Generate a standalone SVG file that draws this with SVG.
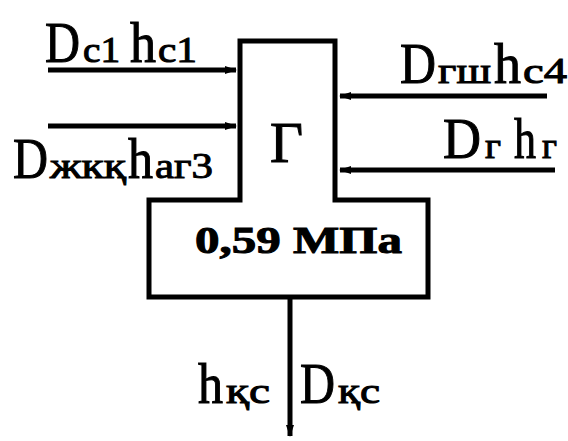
<svg xmlns="http://www.w3.org/2000/svg" width="568" height="441" viewBox="0 0 568 441">
<style>
.l{stroke:#000;stroke-width:5;fill:none}
.t{font-family:"Liberation Serif","Times New Roman","DejaVu Serif",serif;fill:#000;stroke:#000;stroke-width:1;font-size:56px}
.s{font-size:36px}
</style>
<defs>
<marker id="ah" viewBox="0 0 12 10" refX="11" refY="5" markerWidth="12" markerHeight="10" markerUnits="userSpaceOnUse" orient="auto">
<path d="M0,1 L12,5 L0,9 Z" fill="#000"/>
</marker>
</defs>
<g id="node-G">
<path class="l" d="M149,200 L240,200 L240,41 L335,41 L335,200 L428,200 L428,297 L149,297 Z"/>
<text class="t" x="270" y="162" font-size="54" textLength="33" lengthAdjust="spacingAndGlyphs">Г</text>
<text class="t" x="195" y="253" style="font-size:38px" font-weight="bold" textLength="207" lengthAdjust="spacingAndGlyphs">0,59 МПа</text>
</g>
<g id="connectors">
<line class="l" x1="48" y1="70" x2="236" y2="70" marker-end="url(#ah)"/>
<line class="l" x1="48" y1="126" x2="236" y2="126" marker-end="url(#ah)"/>
<line class="l" x1="547" y1="96" x2="340" y2="96" marker-end="url(#ah)"/>
<line class="l" x1="555" y1="170" x2="340" y2="170" marker-end="url(#ah)"/>
<line class="l" x1="290" y1="299" x2="290" y2="436" marker-end="url(#ah)"/>
</g>
<g id="label-in1">
<text class="t" y="62"><tspan x="45" textLength="35" lengthAdjust="spacingAndGlyphs">D</tspan><tspan class="s" x="83" textLength="37" lengthAdjust="spacingAndGlyphs">c1</tspan><tspan x="130" textLength="26" lengthAdjust="spacingAndGlyphs">h</tspan><tspan class="s" x="158" textLength="39" lengthAdjust="spacingAndGlyphs">c1</tspan></text>
</g>
<g id="label-in2">
<text class="t" y="178"><tspan x="13" textLength="35" lengthAdjust="spacingAndGlyphs">D</tspan><tspan class="s" x="50" textLength="76" lengthAdjust="spacingAndGlyphs">жкқ</tspan><tspan x="128" textLength="25" lengthAdjust="spacingAndGlyphs">h</tspan><tspan class="s" x="155" textLength="58" lengthAdjust="spacingAndGlyphs">аг3</tspan></text>
</g>
<g id="label-in3">
<text class="t" y="83"><tspan x="400" textLength="36" lengthAdjust="spacingAndGlyphs">D</tspan><tspan class="s" x="438" textLength="53" lengthAdjust="spacingAndGlyphs">гш</tspan><tspan x="494" textLength="27" lengthAdjust="spacingAndGlyphs">h</tspan><tspan class="s" x="523" textLength="44" lengthAdjust="spacingAndGlyphs">c4</tspan></text>
</g>
<g id="label-in4">
<text class="t" y="158"><tspan x="443" textLength="38" lengthAdjust="spacingAndGlyphs">D</tspan><tspan class="s" x="485" textLength="16" lengthAdjust="spacingAndGlyphs">г</tspan><tspan x="514" textLength="22" lengthAdjust="spacingAndGlyphs">h</tspan><tspan class="s" x="542" textLength="15" lengthAdjust="spacingAndGlyphs">г</tspan></text>
</g>
<g id="label-out">
<text class="t" y="403"><tspan x="198" textLength="25" lengthAdjust="spacingAndGlyphs">h</tspan><tspan class="s" x="226" textLength="44" lengthAdjust="spacingAndGlyphs">қс</tspan><tspan x="300" textLength="35" lengthAdjust="spacingAndGlyphs">D</tspan><tspan class="s" x="338" textLength="42" lengthAdjust="spacingAndGlyphs">қс</tspan></text>
</g>
</svg>
